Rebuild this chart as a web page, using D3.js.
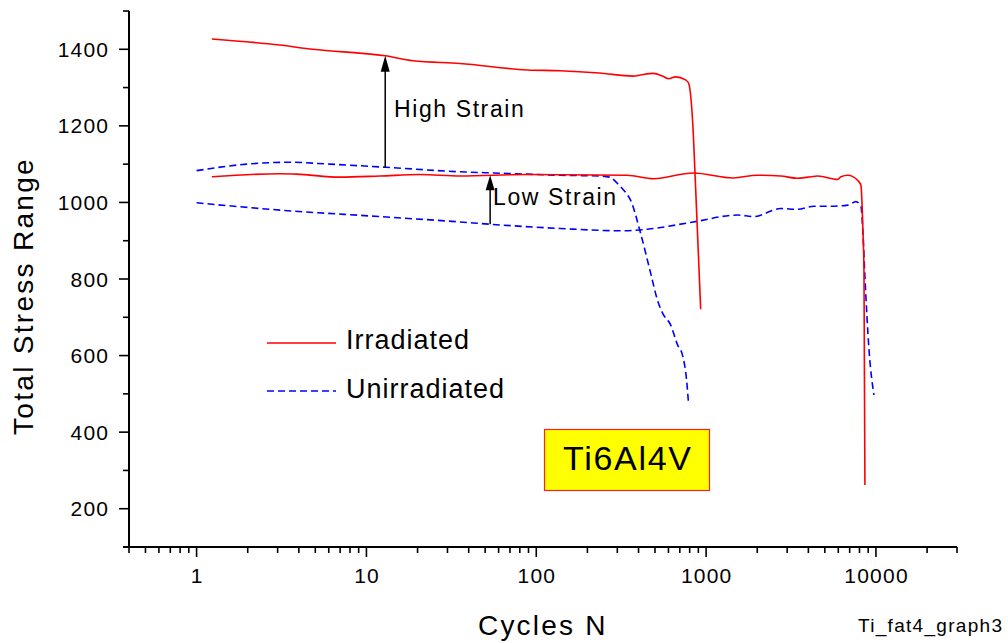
<!DOCTYPE html>
<html>
<head>
<meta charset="utf-8">
<script src="https://cdn.jsdelivr.net/npm/d3@7"></script>
<style>
  html, body { margin: 0; padding: 0; background: #fff; }
  svg { display: block; font-family: "Liberation Sans", Arial, Helvetica, sans-serif; }
</style>
</head>
<body>
<svg id="chart" width="1008" height="643"></svg>
<script>
// Ti6Al4V fatigue: total stress range against cycles (log scale)

// Irradiated, high strain
const irrHighN = [1.23, 3.09, 4.83, 12.9, 18.8, 35.6, 88.5, 138, 235, 373, 411, 490, 554, 601, 661, 757, 788, 832, 867, 929];
const irrHighS = [1427, 1411, 1400, 1383, 1370, 1363, 1346, 1344, 1338, 1330, 1333, 1337, 1330, 1323, 1328, 1320, 1312, 1215, 1040, 721];

// Irradiated, low strain
const irrLowN = [1.23, 3.09, 3.89, 6.97, 12.0, 20.6, 35.6, 88.5, 344, 490, 842, 1442, 1996, 2750, 3440, 3970, 4550, 5960, 6220, 6830, 7830, 8160, 8380, 8500, 8610];
const irrLowS = [1067, 1075, 1074, 1066, 1069, 1073, 1069, 1073, 1071, 1062, 1077, 1064, 1071, 1069, 1063, 1066, 1069, 1060, 1067, 1071, 1057, 1044, 926, 822, 262];

// Unirradiated, high strain
const unHighN = [1.0, 1.97, 3.54, 6.09, 12.9, 35.6, 55.8, 138, 239, 271, 300, 334, 359, 411, 471, 517, 554, 618, 679, 727, 767, 788];
const unHighS = [1083, 1100, 1105, 1100, 1092, 1080, 1077, 1071, 1069, 1066, 1050, 1027, 1006, 920, 816, 745, 711, 680, 628, 600, 537, 474];

// Unirradiated, low strain
const unLowN = [1.0, 3.09, 12.0, 35.6, 53.5, 138, 313, 452, 842, 1535, 1905, 2750, 3440, 4310, 5430, 6830, 7620, 8160, 8380, 8610, 9100, 9730];
const unLowS = [999, 980, 963, 949, 943, 932, 926, 930, 949, 967, 963, 984, 982, 990, 990, 993, 1002, 989, 920, 806, 615, 497];

// Axis ticks
const xMajorTicks = [1, 10, 100, 1000, 10000];
const xTickLabels = ["1", "10", "100", "1000", "10000"];
const yMajorTicks = [200, 400, 600, 800, 1000, 1200, 1400];
const yMinorTicks = [100, 300, 500, 700, 900, 1100, 1300, 1500];

// Arrow annotations (cycles, from stress, to stress)
const arrowHigh = [12.9, 1092, 1383];
const arrowLow = [53.5, 943, 1071];

const svg = d3.select("#chart");

const x = d3.scaleLog().domain([0.4, 30000]).range([129, 957]);
const y = d3.scaleLinear().domain([100, 1500]).range([547, 11]);

// minor x ticks: 2..9 per decade inside the domain
const xMinorTicks = [];
for (let d = 0.1; d <= 10000; d *= 10) {
  for (let k = 2; k <= 9; k++) {
    const v = +(k * d).toPrecision(3);
    if (v >= 0.4 && v <= 30000 && !xMajorTicks.includes(v)) xMinorTicks.push(v);
  }
}

const tickFont = { size: 21, spacing: 1.2 };

// ---- X axis ----
const gx = svg.append("g").attr("transform", "translate(0,547)");
gx.append("line").attr("x1", 123).attr("x2", x(30000)).attr("stroke", "#000").attr("stroke-width", 2);
gx.selectAll("line.minor").data(xMinorTicks).join("line")
  .attr("class", "minor")
  .attr("x1", d => x(d)).attr("x2", d => x(d))
  .attr("y1", 0).attr("y2", 6)
  .attr("stroke", "#000").attr("stroke-width", 1.6);
gx.selectAll("line.major").data(xMajorTicks).join("line")
  .attr("class", "major")
  .attr("x1", d => x(d)).attr("x2", d => x(d))
  .attr("y1", 0).attr("y2", 10)
  .attr("stroke", "#000").attr("stroke-width", 1.6);
gx.selectAll("text").data(xMajorTicks).join("text")
  .attr("x", d => x(d) + tickFont.spacing / 2)
  .attr("y", 36)
  .attr("text-anchor", "middle")
  .attr("font-size", tickFont.size)
  .attr("letter-spacing", tickFont.spacing)
  .text((d, i) => xTickLabels[i]);

// ---- Y axis ----
const gy = svg.append("g").attr("transform", "translate(129,0)");
gy.append("line").attr("y1", y(1500)).attr("y2", 548).attr("stroke", "#000").attr("stroke-width", 2);
gy.selectAll("line.minor").data(yMinorTicks).join("line")
  .attr("class", "minor")
  .attr("x1", -6).attr("x2", 0)
  .attr("y1", d => y(d)).attr("y2", d => y(d))
  .attr("stroke", "#000").attr("stroke-width", 1.6);
gy.selectAll("line.major").data(yMajorTicks).join("line")
  .attr("class", "major")
  .attr("x1", -10).attr("x2", 0)
  .attr("y1", d => y(d)).attr("y2", d => y(d))
  .attr("stroke", "#000").attr("stroke-width", 1.6);
gy.selectAll("text").data(yMajorTicks).join("text")
  .attr("x", -21 + tickFont.spacing)
  .attr("y", d => y(d) + 7.5)
  .attr("text-anchor", "end")
  .attr("font-size", tickFont.size)
  .attr("letter-spacing", tickFont.spacing)
  .text(d => d);

// ---- Axis titles ----
svg.append("text")
  .attr("x", 478).attr("y", 635)
  .attr("font-size", 28).attr("letter-spacing", 2.2)
  .text("Cycles N");
svg.append("text")
  .attr("transform", "translate(33,296) rotate(-90)")
  .attr("text-anchor", "middle")
  .attr("font-size", 28).attr("letter-spacing", 2.3)
  .text("Total Stress Range");
svg.append("text")
  .attr("x", 858).attr("y", 632)
  .attr("font-size", 19).attr("letter-spacing", 1.3)
  .text("Ti_fat4_graph3");

// ---- Data curves ----
const line = d3.line()
  .x(d => x(d[0]))
  .y(d => y(d[1]))
  .curve(d3.curveMonotoneX);

const zip = (a, b) => a.map((v, i) => [v, b[i]]);

const series = [
  { pts: zip(unHighN, unHighS), color: "#0000ff", dash: "7,4" },
  { pts: zip(unLowN, unLowS), color: "#0000ff", dash: "7,4" },
  { pts: zip(irrHighN, irrHighS), color: "#ff0000", dash: null },
  { pts: zip(irrLowN, irrLowS), color: "#ff0000", dash: null }
];

svg.append("g").selectAll("path").data(series).join("path")
  .attr("d", d => line(d.pts))
  .attr("fill", "none")
  .attr("stroke", d => d.color)
  .attr("stroke-width", 1.6)
  .attr("stroke-dasharray", d => d.dash);

// ---- Arrows ----
function arrow(a, headLen, headHalf) {
  const ax = x(a[0]);
  const y0 = y(a[1]);
  const y1 = y(a[2]);
  svg.append("line")
    .attr("x1", ax).attr("x2", ax)
    .attr("y1", y0).attr("y2", y1 + headLen - 2)
    .attr("stroke", "#000").attr("stroke-width", 1.5);
  svg.append("path")
    .attr("d", `M${ax},${y1} L${ax - headHalf},${y1 + headLen} L${ax + headHalf},${y1 + headLen} Z`)
    .attr("fill", "#000");
}
arrow(arrowHigh, 16, 4.5);
arrow(arrowLow, 15, 4.5);

svg.append("text")
  .attr("x", 394).attr("y", 117)
  .attr("font-size", 23).attr("letter-spacing", 1.6)
  .text("High Strain");
svg.append("text")
  .attr("x", 493).attr("y", 205)
  .attr("font-size", 23).attr("letter-spacing", 1.6)
  .text("Low Strain");

// ---- Legend ----
const legend = svg.append("g");
legend.append("line")
  .attr("x1", 267).attr("x2", 336).attr("y1", 343).attr("y2", 343)
  .attr("stroke", "#ff0000").attr("stroke-width", 1.6);
legend.append("text")
  .attr("x", 346).attr("y", 349)
  .attr("font-size", 27).attr("letter-spacing", 1)
  .text("Irradiated");
legend.append("line")
  .attr("x1", 267).attr("x2", 336).attr("y1", 391).attr("y2", 391)
  .attr("stroke", "#0000ff").attr("stroke-width", 1.6)
  .attr("stroke-dasharray", "7,4");
legend.append("text")
  .attr("x", 346).attr("y", 398)
  .attr("font-size", 27).attr("letter-spacing", 1)
  .text("Unirradiated");

// ---- Material label ----
svg.append("rect")
  .attr("x", 544.5).attr("y", 429.5).attr("width", 165).attr("height", 61)
  .attr("fill", "#ffff00").attr("stroke", "#ff2020").attr("stroke-width", 1.2);
svg.append("text")
  .attr("x", 627 + 0.85).attr("y", 470)
  .attr("text-anchor", "middle")
  .attr("font-size", 34).attr("letter-spacing", 1.7)
  .text("Ti6Al4V");
</script>
</body>
</html>
